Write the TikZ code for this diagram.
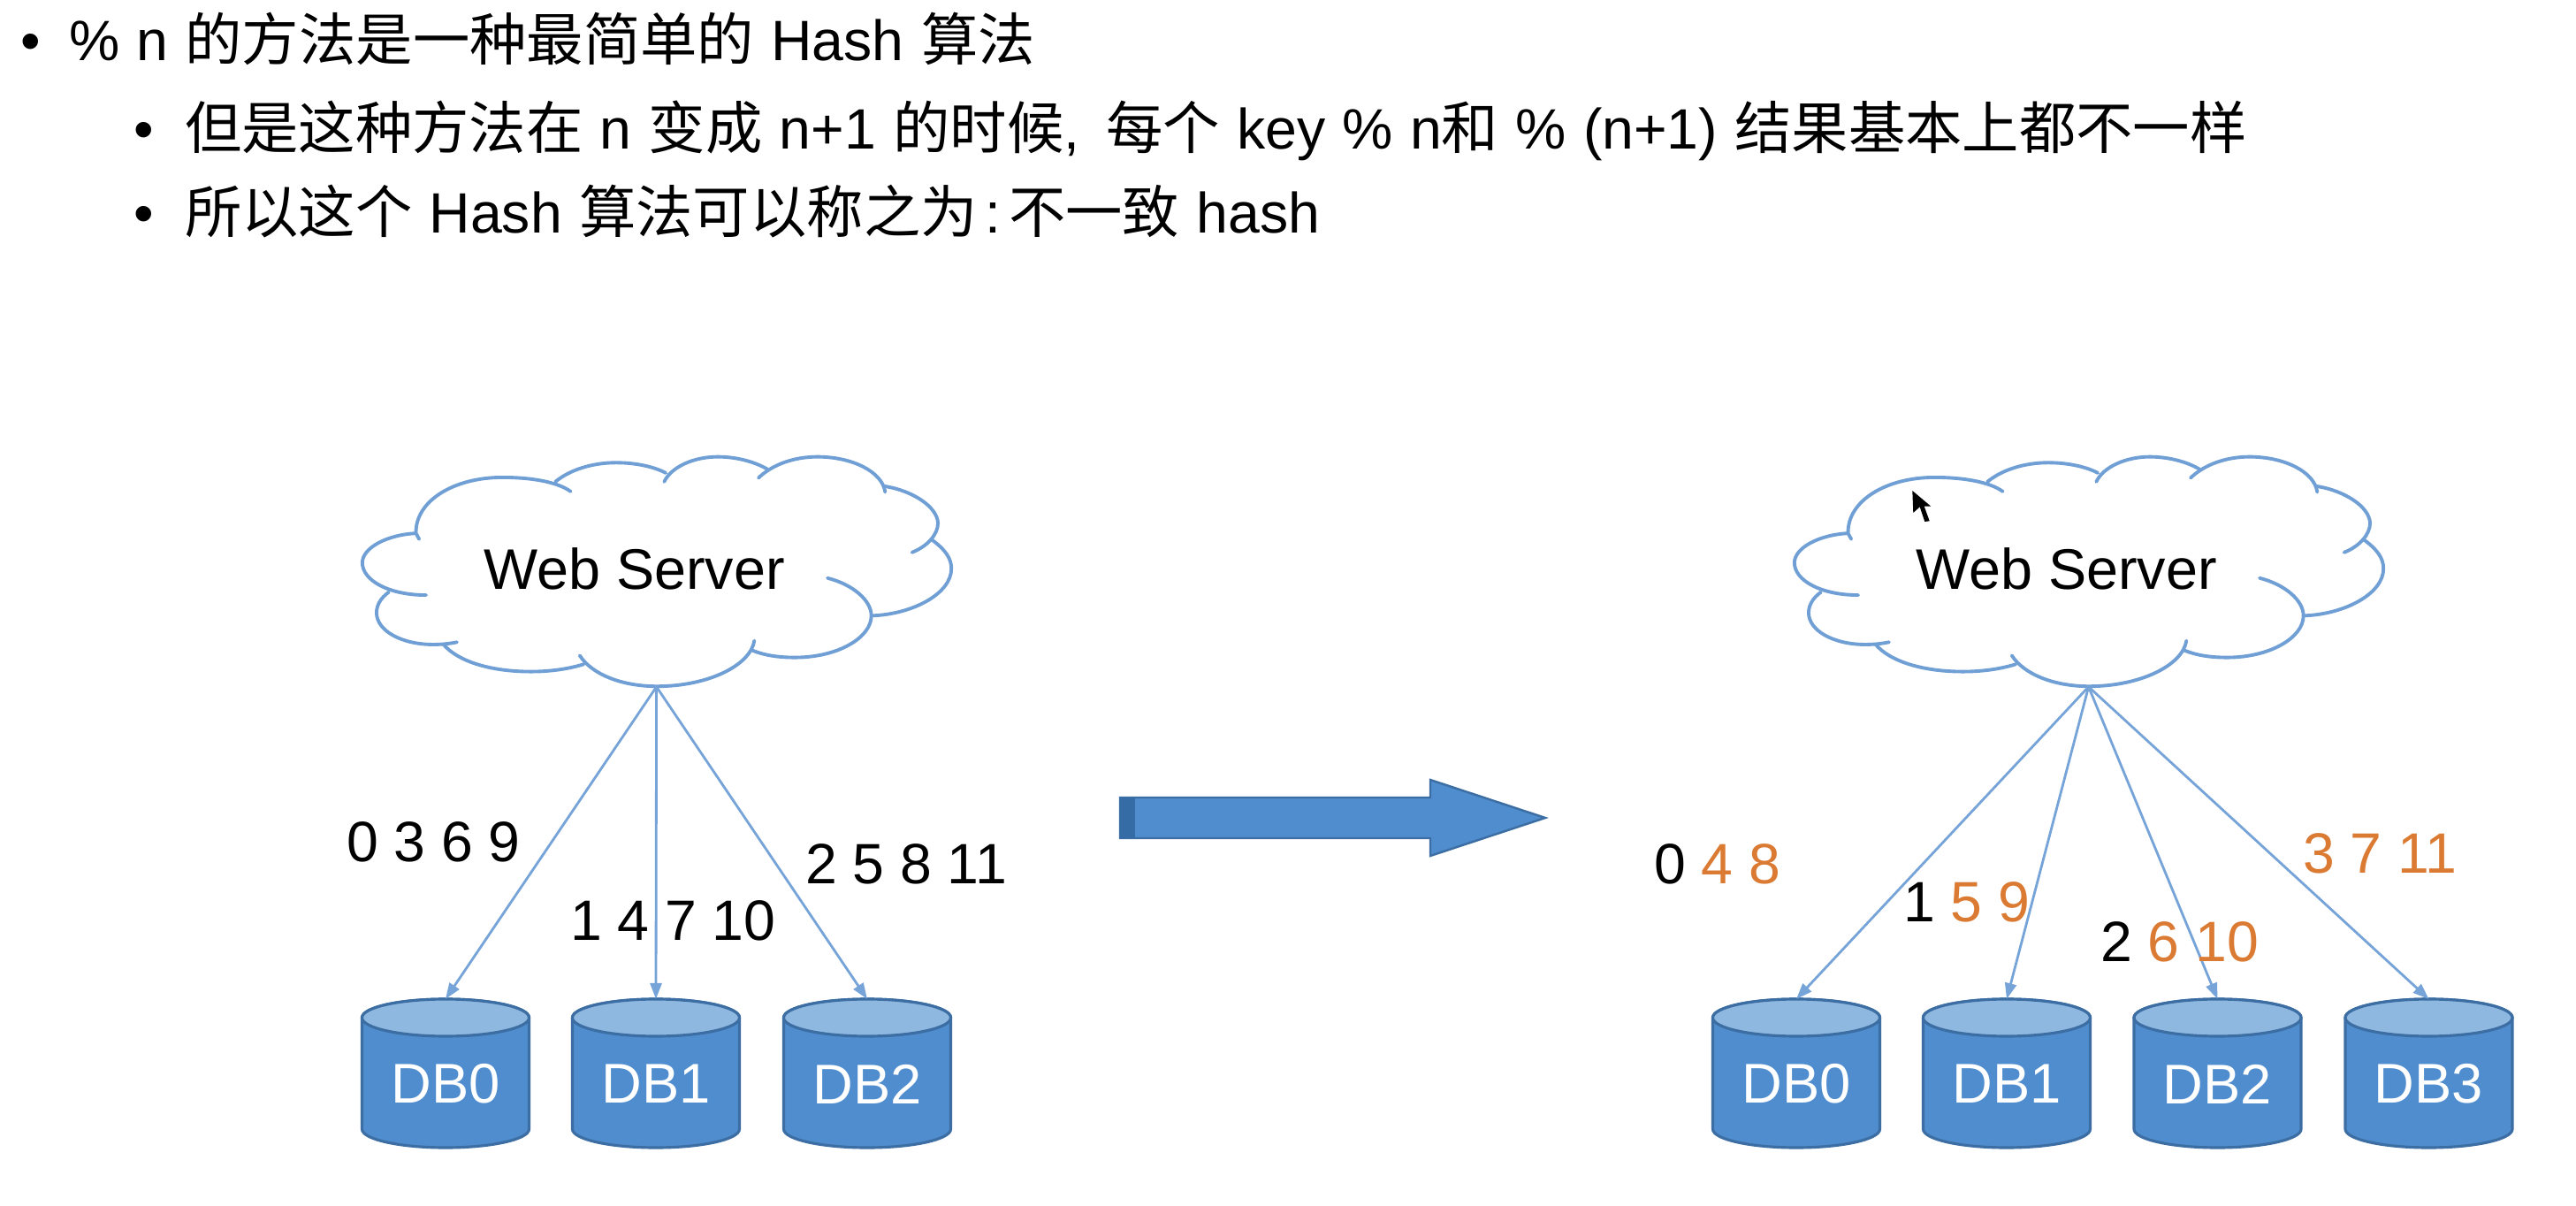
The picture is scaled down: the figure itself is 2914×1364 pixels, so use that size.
\documentclass[tikz,border=0pt]{standalone}
\usepackage{fontspec}
\setmainfont{Liberation Sans}
\newfontfamily\cjk{Noto Sans CJK SC}
\usetikzlibrary{arrows.meta}
\definecolor{linkblue}{HTML}{76A4D8}
\definecolor{cloudblue}{HTML}{6F9FD4}
\definecolor{dbfill}{HTML}{4F8DCF}
\definecolor{dbtop}{HTML}{8FB8E0}
\definecolor{dbedge}{HTML}{3C6EA3}
\definecolor{arrowdark}{HTML}{366CA6}
\definecolor{orangeT}{HTML}{DB7A32}
\newcommand{\C}[1]{{\cjk #1}}
\newcommand{\Or}[1]{{\color{orangeT}#1}}
\tikzset{
  txt/.style={inner sep=0pt,outer sep=0pt,anchor=base west,text=black,font=\fontsize{18.3pt}{22pt}\selectfont},
  num/.style={txt},
  cloudline/.style={draw=cloudblue,line width=1.1pt,line cap=round,line join=round},
  link/.style={draw=linkblue,line width=0.8pt,-{Triangle[length=0.18cm,width=0.13cm]}},
  dblabel/.style={inner sep=0pt,outer sep=0pt,minimum width=1.89cm,minimum height=1.68cm,text=white,font=\fontsize{18pt}{22pt}\selectfont},
  cloudbox/.style={inner sep=0pt,outer sep=0pt,minimum width=6.68cm,minimum height=2.6cm},
  ws/.style={inner sep=0pt,outer sep=0pt,text=black,font=\fontsize{18.4pt}{22pt}\selectfont}
}
\newcommand{\cloudpaths}{
  \draw[cloudline] (205,330) -- (197,310) .. controls (195,200) and (290,120) .. (410,120) .. controls (480,120) and (545,135) .. (578,168);
  \draw[cloudline] (540,135) .. controls (575,95) and (630,70) .. (690,70) .. controls (740,70) and (785,85) .. (812,105);
  \draw[cloudline] (808,135) .. controls (825,85) and (880,50) .. (940,50) .. controls (990,50) and (1035,70) .. (1062,92);
  \draw[cloudline] (1040,122) .. controls (1075,75) and (1130,50) .. (1185,50) .. controls (1270,50) and (1345,100) .. (1352,170);
  \draw[cloudline] (1350,150) .. controls (1420,165) and (1480,220) .. (1482,275) .. controls (1482,315) and (1455,355) .. (1418,375);
  \draw[cloudline] (1465,330) .. controls (1500,365) and (1515,395) .. (1515,430) .. controls (1515,515) and (1420,585) .. (1320,590);
  \draw[cloudline] (1210,462) .. controls (1275,485) and (1318,540) .. (1318,590) .. controls (1318,665) and (1235,732) .. (1130,732) .. controls (1090,732) and (1055,725) .. (1025,708);
  \draw[cloudline] (1030,675) .. controls (1020,760) and (915,830) .. (790,830) .. controls (705,830) and (630,790) .. (600,725);
  \draw[cloudline] (610,755) .. controls (570,772) and (525,780) .. (480,780) .. controls (380,780) and (300,745) .. (265,688);
  \draw[cloudline] (298,680) .. controls (280,685) and (260,688) .. (240,688) .. controls (160,688) and (100,640) .. (100,580) .. controls (100,555) and (110,530) .. (130,510);
  \draw[cloudline] (222,520) .. controls (130,520) and (65,470) .. (65,410) .. controls (65,360) and (125,315) .. (197,310);
}
% #1 name, #2 centre x, #3 label
\newcommand{\dbcyl}[3]{
  \path[fill=dbfill,draw=dbedge,line width=0.9pt]
    (#2-94.5,1151) -- (#2-94.5,1277) arc[start angle=180,end angle=360,x radius=94.5,y radius=-21] -- (#2+94.5,1151)
    arc[start angle=0,end angle=180,x radius=94.5,y radius=-21] -- cycle;
  \path[fill=dbtop,draw=dbedge,line width=0.9pt] (#2,1151) ellipse[x radius=94.5,y radius=21];
  \node[dblabel] (#1) at (#2,1214) {};
  \node[dblabel,minimum width=0pt,minimum height=0pt] (#1t) at (#2,1226) {#3};
}
\begin{document}
\begin{tikzpicture}[x=0.01cm,y=-0.01cm]
\useasboundingbox (0,0) rectangle (2914,1364);
\fill[white] (0,0) rectangle (2914,1364);

% heading text
\spaceskip=0.30em
\node[txt] (b1) at (24,68.5) {•};
\node[txt] (l1) at (78,68.5) {\spaceskip=0.30em \% n \C{的方法是一种最简单的} Hash \C{算法}};
\node[txt] (b2) at (151,168.5) {•};
\node[txt] (l2) at (209,168.5) {\spaceskip=0.30em \C{但是这种方法在} n \C{变成} n+1 \C{的时候},\hspace{3pt} \C{每个} key \% n\C{和} \% (n+1) \C{结果基本上都不一样}};
\node[txt] (b3) at (151,264) {•};
\node[txt] (l3) at (209,264) {\spaceskip=0.30em \C{所以这个} Hash \C{算法可以称之为}\hspace{2.5pt}:\hspace{2.5pt}\C{不一致} hash};

% left cloud
\begin{scope}[shift={(380,500)},x=0.00459cm,y=-0.003333cm]
  \cloudpaths
\end{scope}
\node[cloudbox] (cloudL) at (742.6,646.7) {};
\node[ws] (wsL) at (717.5,643) {Web Server};

% right cloud
\begin{scope}[shift={(2000,500)},x=0.00459cm,y=-0.003333cm]
  \cloudpaths
\end{scope}
\node[cloudbox] (cloudR) at (2362.6,646.7) {};
\node[ws] (wsR) at (2337.5,643) {Web Server};

% mouse pointer
\fill[black] (2163.3,555) -- (2164.3,580) -- (2171.7,573.3) -- (2177.3,590) -- (2182.7,589.3) -- (2176.7,572.7) -- (2184.3,572.7) -- cycle;

% databases
\dbcyl{ldb0}{504}{DB0}
\dbcyl{ldb1}{742}{DB1}
\dbcyl{ldb2}{981}{DB2}
\dbcyl{rdb0}{2032}{DB0}
\dbcyl{rdb1}{2270}{DB1}
\dbcyl{rdb2}{2508.5}{DB2}
\dbcyl{rdb3}{2747.5}{DB3}

% connectors
\draw[link] (cloudL.south) -- (ldb0.north);
\draw[link] (cloudL.south) -- (ldb1.north);
\draw[link] (cloudL.south) -- (ldb2.north);
\draw[link] (cloudR.south) -- (rdb0.north);
\draw[link] (cloudR.south) -- (rdb1.north);
\draw[link] (cloudR.south) -- (rdb2.north);
\draw[link] (cloudR.south) -- (rdb3.north);

% number labels
\node[num] (n1) at (392,974) {0 3 6 9};
\node[num] (n2) at (645,1063) {1 4 7 10};
\node[num] (n3) at (911,999) {2 5 8 11};
\node[num] (n4) at (1871,999) {0 \Or{4 8}};
\node[num] (n5) at (2153,1042) {1 \Or{5 9}};
\node[num] (n6) at (2376,1087) {2 \Or{6 10}};
\node[num,text=orangeT] (n7) at (2605,987) {3 7 11};

% big arrow
\path[fill=dbfill,draw=dbedge,line width=0.7pt] (1267,902) -- (1618,902) -- (1618,882) -- (1748,925) -- (1618,968) -- (1618,948) -- (1267,948) -- cycle;
\fill[arrowdark] (1267,902) rectangle (1284,948);
\end{tikzpicture}
\end{document}
